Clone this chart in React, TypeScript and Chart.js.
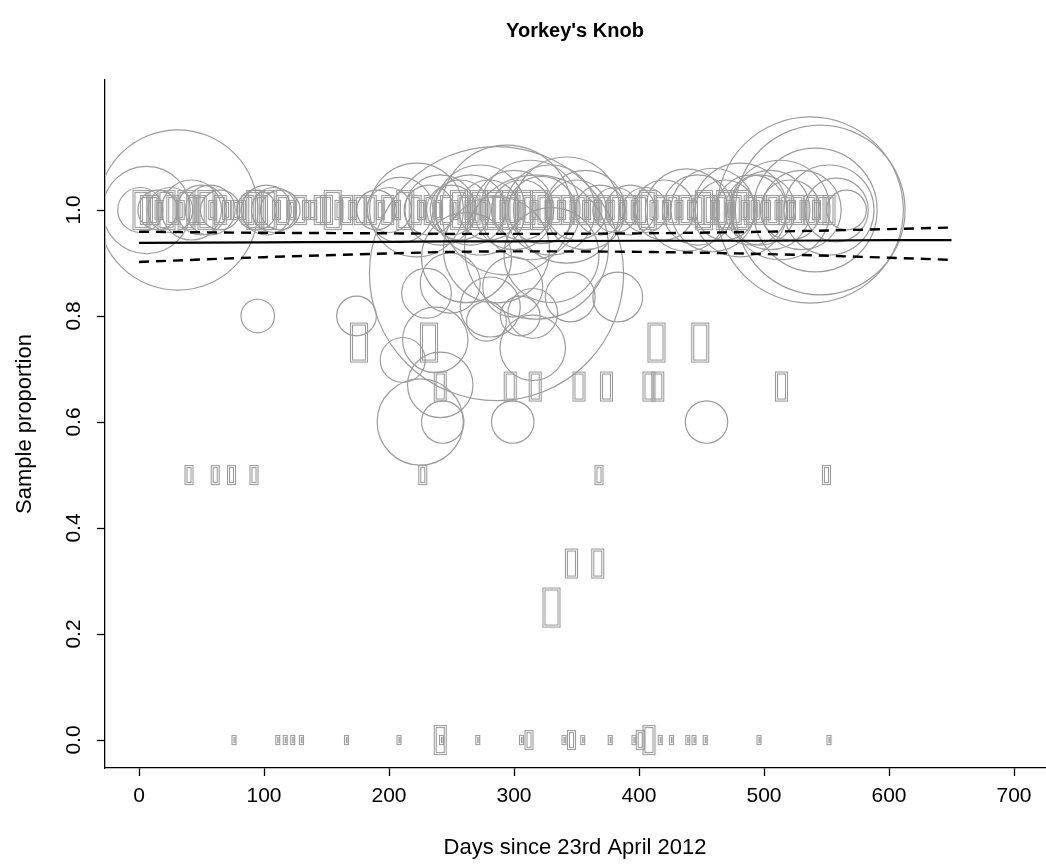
import React, { useEffect, useRef } from 'react';
import { Chart, registerables } from 'chart.js';

Chart.register(...registerables);

const FONT = "'Liberation Sans', Arial, Helvetica, sans-serif";

const titleText = "Yorkey's Knob";
const xTitle = 'Days since 23rd April 2012';
const yTitle = 'Sample proportion';

const xTicks = [0, 100, 200, 300, 400, 500, 600, 700];
const yTicks = [0, 0.2, 0.4, 0.6, 0.8, 1.0];

// ---- fitted line and 95% CI ----
const fitDays = [0, 100, 200, 250, 300, 400, 500, 600, 650];
const fitMean = [0.938, 0.939, 0.940, 0.941, 0.941, 0.942, 0.942, 0.943, 0.943];
const fitUpper = [0.959, 0.957, 0.956, 0.955, 0.955, 0.956, 0.959, 0.964, 0.967];
const fitLower = [0.902, 0.911, 0.918, 0.921, 0.922, 0.921, 0.917, 0.910, 0.906];

// ---- circle markers (larger samples) ----
const circleDays = [
  1, 6, 31, 15, 25, 42, 50, 57, 65, 94, 102, 108, 113,
  190, 200, 209, 222, 232, 241, 250, 257, 265, 273, 280, 294, 300, 306, 313, 322, 329, 342, 350, 357, 369,
  381, 393, 405, 420, 438, 447,
  459, 469, 481, 490, 497, 505, 513, 521, 530, 537, 541, 545, 552, 558, 566,
  95, 174, 286, 318, 286, 262, 330,
  230, 249, 281, 299, 315, 345, 383, 305, 278,
  211, 237, 241, 225, 243, 315, 299, 454,
];
const circleProps = [
  1, 1, 1, 1, 1, 1, 1, 1, 1, 1, 1, 1, 1,
  1, 1, 1, 1, 1, 1, 1, 1, 1, 1, 1, 1, 1, 1, 1, 1, 1, 1, 1, 1, 1,
  1, 1, 1, 1, 1, 1,
  1, 1, 1, 1, 1, 1, 1, 1, 1, 1, 1, 1, 1, 1, 1,
  0.8, 0.8, 0.88, 0.93, 0.925, 0.91, 0.915,
  0.843, 0.862, 0.817, 0.855, 0.805, 0.836, 0.836, 0.8, 0.79,
  0.717, 0.755, 0.67, 0.6, 0.6, 0.74, 0.6, 0.6,
];
const circleWeights = [
  9, 34, 114, 7, 9, 16, 11, 11, 7, 7, 11, 9, 7,
  7, 9, 19, 39, 11, 22, 11, 16, 22, 36, 16, 75, 28, 16, 44, 20, 36, 50, 16, 28, 11,
  9, 11, 9, 16, 30, 22,
  31, 16, 39, 22, 22, 28, 44, 16, 28, 154, 68, 128, 36, 18, 7,
  5, 7, 287, 92, 50, 36, 40,
  11, 16, 16, 16, 11, 11, 11, 7, 7,
  9, 19, 19, 33, 8, 19, 8, 8,
];

// ---- rectangle markers (smaller samples) ----
const rectDays = [
  // proportion 1.0
  2, 6, 11, 16, 22, 27, 33, 38, 43, 49, 54, 59, 65, 70, 77, 82, 87, 93, 98, 103, 110, 115, 122, 129, 134, 139, 145, 150, 155, 160, 166, 171,
  177, 185, 193, 199, 206, 213, 221, 226, 233, 239, 246, 252, 256, 260, 264, 268, 272, 276, 280, 284, 288, 292, 296, 300, 304, 308, 312, 316, 320, 324, 328, 333, 338, 343, 348, 353, 358, 363,
  367, 372, 377, 382, 387, 392, 397, 402, 407, 412, 417, 422, 427, 432, 437, 442, 447, 452, 457, 461, 465, 469, 473, 477, 481, 485, 489, 493, 497, 502, 507, 512, 517, 522, 527, 532, 537, 542, 547, 552,
  // 0.75
  176, 232, 414, 449,
  // 0.667
  241, 297, 317, 352, 374, 408, 415, 514,
  // 0.5
  40, 61, 74, 92, 227, 368, 550,
  // 0.333
  346, 367,
  // 0.25
  330,
  // 0
  76, 111, 117, 123, 130, 166, 208, 241, 242, 271, 306, 312, 340, 346, 355, 377, 396, 401, 408, 417, 426, 439, 444, 453, 496, 552,
];
const rectProps = [
  1, 1, 1, 1, 1, 1, 1, 1, 1, 1, 1, 1, 1, 1, 1, 1, 1, 1, 1, 1, 1, 1, 1, 1, 1, 1, 1, 1, 1, 1, 1, 1,
  1, 1, 1, 1, 1, 1, 1, 1, 1, 1, 1, 1, 1, 1, 1, 1, 1, 1, 1, 1, 1, 1, 1, 1, 1, 1, 1, 1, 1, 1, 1, 1, 1, 1, 1, 1, 1, 1,
  1, 1, 1, 1, 1, 1, 1, 1, 1, 1, 1, 1, 1, 1, 1, 1, 1, 1, 1, 1, 1, 1, 1, 1, 1, 1, 1, 1, 1, 1, 1, 1, 1, 1, 1, 1, 1, 1, 1, 1,
  0.75, 0.75, 0.75, 0.75,
  0.667, 0.667, 0.667, 0.667, 0.667, 0.667, 0.667, 0.667,
  0.5, 0.5, 0.5, 0.5, 0.5, 0.5, 0.5,
  0.333, 0.333,
  0.25,
  0, 0, 0, 0, 0, 0, 0, 0, 0, 0, 0, 0, 0, 0, 0, 0, 0, 0, 0, 0, 0, 0, 0, 0, 0, 0,
];
const rectWeights = [
  4, 3, 3, 2, 4, 3, 2, 4, 3, 3, 4, 2, 3, 2, 2, 2, 3, 4, 3, 4, 2, 3, 2, 3, 2, 2, 3, 3, 4, 2, 3, 2,
  3, 3, 2, 3, 2, 4, 3, 2, 3, 2, 3, 2, 4, 3, 2, 3, 4, 2, 3, 4, 3, 2, 4, 3, 2, 4, 3, 2, 4, 3, 2, 3, 2, 3, 2, 3, 2, 3,
  2, 3, 2, 3, 2, 3, 2, 3, 4, 2, 3, 2, 3, 2, 3, 2, 3, 4, 3, 2, 3, 4, 2, 3, 4, 2, 3, 2, 3, 2, 3, 2, 3, 2, 3, 2, 3, 2, 3, 3,
  4, 4, 4, 4,
  3, 3, 3, 3, 3, 3, 3, 3,
  2, 2, 2, 2, 2, 2, 2,
  3, 3,
  4,
  1, 1, 1, 1, 1, 1, 1, 3, 1, 1, 1, 2, 1, 2, 1, 1, 1, 2, 3, 1, 1, 1, 1, 1, 1, 1,
];

const MARK = '#9c9c9c';

const rectCache: Record<string, HTMLCanvasElement> = {};
function rectMarker(w: number): HTMLCanvasElement {
  const key = String(w);
  if (rectCache[key]) return rectCache[key];
  const h = Math.round(10 * w);
  const wd = Math.max(5, Math.round(h * 0.44));
  const c = document.createElement('canvas');
  c.width = wd + 2;
  c.height = h + 2;
  const g = c.getContext('2d')!;
  g.strokeStyle = MARK;
  g.lineWidth = 1.1;
  g.strokeRect(1.5, 1.5, wd - 1, h - 1);
  g.strokeRect(3.5, 3.5, Math.max(0.5, wd - 5), Math.max(0.5, h - 5));
  rectCache[key] = c;
  return c;
}

const titlePlugin = {
  id: 'centredTitle',
  afterDraw(chart: any) {
    const { ctx, chartArea } = chart;
    ctx.save();
    ctx.fillStyle = '#000';
    ctx.font = `bold 20px ${FONT}`;
    ctx.textAlign = 'center';
    ctx.textBaseline = 'middle';
    ctx.fillText(titleText, (chartArea.left + chartArea.right) / 2, 31);
    ctx.restore();
  },
};

const plotClip = {
  id: 'plotClip',
  beforeDatasetsDraw(chart: any) {
    const { ctx, chartArea: a } = chart;
    ctx.save();
    ctx.beginPath();
    ctx.rect(a.left + 0.7, a.top, a.right - a.left, a.bottom - a.top - 0.7);
    ctx.clip();
  },
  afterDatasetsDraw(chart: any) {
    chart.ctx.restore();
  },
};

export default function App() {
  const ref = useRef<HTMLCanvasElement | null>(null);

  useEffect(() => {
    document.body.style.margin = '0';
    const canvas = ref.current;
    if (!canvas) return;

    const bubbles = circleDays.map((d, i) => ({ x: d, y: circleProps[i], r: 7.5 * Math.sqrt(circleWeights[i]) }));
    const rects = rectDays.map((d, i) => ({ x: d, y: rectProps[i] }));
    const line = (arr: number[]) => fitDays.map((d, i) => ({ x: d, y: arr[i] }));

    const chart = new Chart(canvas, {
      type: 'scatter',
      data: {
        datasets: [
          {
            type: 'scatter',
            data: line(fitMean),
            showLine: true,
            borderColor: '#000',
            borderWidth: 2.2,
            pointRadius: 0,
            cubicInterpolationMode: 'monotone',
          } as any,
          {
            type: 'scatter',
            data: line(fitUpper),
            showLine: true,
            borderColor: '#000',
            borderWidth: 2.4,
            borderDash: [10, 7],
            pointRadius: 0,
            cubicInterpolationMode: 'monotone',
          } as any,
          {
            type: 'scatter',
            data: line(fitLower),
            showLine: true,
            borderColor: '#000',
            borderWidth: 2.4,
            borderDash: [10, 7],
            pointRadius: 0,
            cubicInterpolationMode: 'monotone',
          } as any,
          {
            type: 'scatter',
            data: rects,
            pointStyle: (ctx: any) => rectMarker(rectWeights[ctx.dataIndex] ?? 1),
            pointRadius: 3,
            clip: 0,
          } as any,
          {
            type: 'bubble',
            data: bubbles,
            backgroundColor: 'rgba(0,0,0,0)',
            borderColor: MARK,
            borderWidth: 1.2,
            clip: 0,
          } as any,
        ],
      },
      plugins: [titlePlugin, plotClip],
      options: {
        responsive: false,
        animation: false,
        devicePixelRatio: 1,
        events: [],
        layout: { autoPadding: false, padding: { left: 0, right: 1, top: 80, bottom: 0 } },
        plugins: {
          legend: { display: false },
          tooltip: { enabled: false },
          title: { display: false },
        },
        scales: {
          x: {
            type: 'linear',
            min: -27.2,
            max: 724.8,
            afterBuildTicks: (s: any) => {
              s.ticks = xTicks.map((v) => ({ value: v }));
            },
            afterFit: (s: any) => {
              s.height = 98;
            },
            grid: { drawOnChartArea: false, drawTicks: true, tickLength: 8, tickColor: '#000', tickWidth: 1.3 },
            border: { display: true, color: '#000', width: 1.3 },
            ticks: {
              color: '#000',
              font: { family: FONT, size: 21 },
              padding: 8,
              maxRotation: 0,
              minRotation: 0,
              callback: (v: any) => String(v),
            },
            title: {
              display: true,
              text: xTitle,
              color: '#000',
              font: { family: FONT, size: 22 },
              padding: { top: 0, bottom: 5 },
            },
          },
          y: {
            type: 'linear',
            min: -0.0528,
            max: 1.2453,
            afterBuildTicks: (s: any) => {
              s.ticks = yTicks.map((v) => ({ value: v }));
            },
            afterFit: (s: any) => {
              s.width = 105;
            },
            grid: { drawOnChartArea: false, drawTicks: true, tickLength: 8, tickColor: '#000', tickWidth: 1.3 },
            border: { display: true, color: '#000', width: 1.3 },
            ticks: {
              color: '#000',
              font: { family: FONT, size: 21 },
              padding: 8,
              minRotation: 90,
              maxRotation: 90,
              crossAlign: 'center',
              callback: (v: any) => Number(v).toFixed(1),
            },
            title: {
              display: true,
              text: yTitle,
              color: '#000',
              font: { family: FONT, size: 22 },
              padding: { top: 12, bottom: 0 },
            },
          },
        },
      } as any,
    });

    return () => chart.destroy();
  }, []);

  return (
    <div style={{ width: 1046, height: 866, background: '#fff' }}>
      <canvas ref={ref} width={1046} height={866} style={{ display: 'block' }} />
    </div>
  );
}
